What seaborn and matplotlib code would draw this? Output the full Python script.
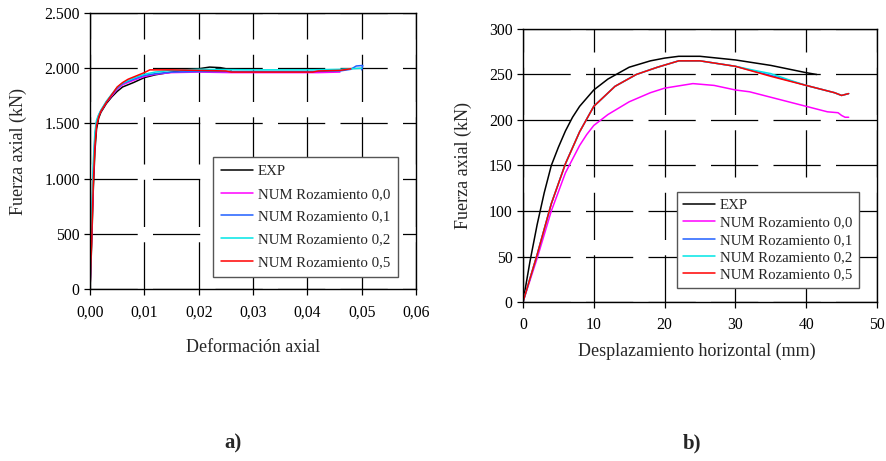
import matplotlib
matplotlib.use("Agg")
import matplotlib.pyplot as plt
import matplotlib.ticker as mticker
import seaborn as sns
import pandas as pd

# ---- data: a) axial strain vs axial force ----
labels = ["EXP", "NUM Rozamiento 0,0", "NUM Rozamiento 0,1",
          "NUM Rozamiento 0,2", "NUM Rozamiento 0,5"]
colors = ["black", "#ff00ff", "#1f5fff", "#00e5e5", "#ff0000"]

a_exp_x = [0, 0.0003, 0.0006, 0.0009, 0.0012, 0.0016, 0.002, 0.003, 0.004, 0.005,
           0.006, 0.008, 0.010, 0.012, 0.015, 0.018, 0.020, 0.022, 0.024, 0.026]
a_exp_y = [0, 400, 900, 1250, 1450, 1550, 1600, 1680, 1740, 1790,
           1830, 1870, 1915, 1940, 1965, 1985, 1995, 2010, 2005, 1985]

a_n00_x = [0, 0.0003, 0.0006, 0.0009, 0.0012, 0.0016, 0.002, 0.003, 0.004, 0.005,
           0.006, 0.008, 0.010, 0.012, 0.015, 0.020, 0.026, 0.035, 0.042, 0.046]
a_n00_y = [0, 500, 1000, 1350, 1500, 1570, 1610, 1690, 1750, 1810,
           1850, 1890, 1925, 1945, 1960, 1965, 1960, 1960, 1960, 1965]

a_n01_x = [0, 0.0003, 0.0006, 0.0009, 0.0012, 0.0016, 0.002, 0.003, 0.004, 0.005,
           0.006, 0.008, 0.010, 0.012, 0.015, 0.020, 0.030, 0.040, 0.046, 0.048,
           0.049, 0.0502, 0.050]
a_n01_y = [0, 550, 1050, 1380, 1510, 1575, 1615, 1695, 1760, 1820,
           1860, 1900, 1935, 1950, 1965, 1970, 1970, 1970, 1975, 1990,
           2020, 2025, 1985]

a_n02_x = [0, 0.0003, 0.0006, 0.0009, 0.0012, 0.0016, 0.002, 0.003, 0.004, 0.005,
           0.006, 0.008, 0.010, 0.012, 0.015, 0.020, 0.030, 0.040, 0.046, 0.050]
a_n02_y = [0, 650, 1150, 1420, 1530, 1580, 1620, 1700, 1765, 1825,
           1865, 1910, 1945, 1965, 1980, 1990, 1985, 1985, 1990, 2000]

a_n05_x = [0, 0.0003, 0.0006, 0.0009, 0.0012, 0.0016, 0.002, 0.003, 0.004, 0.005,
           0.006, 0.007, 0.008, 0.009, 0.010, 0.011, 0.015, 0.020, 0.025, 0.026,
           0.041, 0.042, 0.046, 0.048]
a_n05_y = [0, 450, 950, 1300, 1480, 1560, 1610, 1690, 1760, 1830,
           1870, 1900, 1920, 1940, 1960, 1985, 1985, 1980, 1975, 1965,
           1965, 1975, 1980, 1995]

# ---- data: b) horizontal displacement vs axial force ----
b_exp_x = [0, 1, 2, 3, 4, 5, 6, 7, 8, 10, 12, 15, 18, 20, 22, 25, 30, 35, 40, 41.5]
b_exp_y = [0, 45, 85, 120, 150, 170, 188, 203, 215, 233, 245, 258, 265, 268, 270, 270, 266, 260, 252, 250]

b_n00_x = [0, 2, 4, 6, 8, 9, 10, 12, 15, 18, 20, 24, 27, 30, 32, 35, 40, 43, 44.5, 45, 45.5, 46]
b_n00_y = [0, 48, 100, 142, 172, 184, 194, 206, 220, 230, 235, 240, 238, 233, 231, 225, 215, 209, 208, 205, 203, 203]

b_n01_x = [0, 2, 4, 6, 8, 10, 13, 16, 19, 22, 25, 30, 35, 40, 44, 45, 45.5, 46]
b_n01_y = [0, 52, 108, 152, 187, 215, 237, 250, 258, 265, 265, 259, 249, 238, 230, 227, 228, 229]

b_n02_x = [0, 2, 4, 6, 8, 10, 13, 16, 19, 22, 25, 30, 33, 35, 38, 40, 44, 45, 45.5, 46]
b_n02_y = [0, 52, 108, 152, 187, 215, 237, 250, 258, 265, 265, 259, 254, 251, 243, 238, 230, 227, 228, 229]

b_n05_x = [0, 2, 4, 6, 8, 10, 13, 16, 19, 22, 25, 30, 35, 40, 44, 45, 45.5, 46]
b_n05_y = [0, 52, 108, 152, 187, 215, 237, 250, 258, 265, 265, 259, 248, 238, 230, 227, 228, 229]


def long_df(series):
    frames = []
    for lab, xs, ys in series:
        frames.append(pd.DataFrame({"x": xs, "y": ys, "serie": lab}))
    return pd.concat(frames, ignore_index=True)


df_a = long_df(zip(labels, [a_exp_x, a_n00_x, a_n01_x, a_n02_x, a_n05_x],
                   [a_exp_y, a_n00_y, a_n01_y, a_n02_y, a_n05_y]))
df_b = long_df(zip(labels, [b_exp_x, b_n00_x, b_n01_x, b_n02_x, b_n05_x],
                   [b_exp_y, b_n00_y, b_n01_y, b_n02_y, b_n05_y]))

sns.set_theme(style="white")
plt.rcParams["font.family"] = ["Liberation Serif", "DejaVu Serif"]
plt.rcParams["lines.scale_dashes"] = False

fig = plt.figure(figsize=(8.87, 4.61), dpi=100)
ax_a = fig.add_axes([0.1015, 0.3731, 0.3675, 0.5987])
ax_b = fig.add_axes([0.5896, 0.3449, 0.3991, 0.5922])
palette = dict(zip(labels, colors))


def style_axes(ax):
    ax.grid(True, color="black", linewidth=0.9, linestyle=(0, (34, 11)))
    ax.set_axisbelow(True)
    for s in ax.spines.values():
        s.set_color("black")
        s.set_linewidth(1.0)
    ax.tick_params(axis="both", which="major", direction="out", length=4, width=0.9,
                   colors="black", labelsize=11.3, bottom=True, left=True)
    ax.tick_params(axis="x", pad=7)


# (anchor, labelspacing, borderpad) per panel
legend_opts = [(ax_a, df_a, (0.945, 0.0435), 0.62, 0.55),
               (ax_b, df_b, (0.949, 0.051), 0.26, 0.45)]
for ax, df, anchor, spacing, bpad in legend_opts:
    sns.lineplot(data=df, x="x", y="y", hue="serie", palette=palette, hue_order=labels,
                 estimator=None, sort=False, linewidth=1.1, ax=ax)
    style_axes(ax)
    leg = ax.legend(loc="lower right", bbox_to_anchor=anchor, borderaxespad=0,
                    fontsize=10.7, frameon=True, fancybox=False, framealpha=1,
                    edgecolor="#555555", handlelength=2.15, borderpad=bpad,
                    labelspacing=spacing, handletextpad=0.3)
    leg.get_frame().set_linewidth(1.0)

ax_a.set_xlim(0, 0.06)
ax_a.set_ylim(0, 2500)
ax_a.xaxis.set_major_locator(mticker.MultipleLocator(0.01))
ax_a.yaxis.set_major_locator(mticker.MultipleLocator(500))
ax_a.xaxis.set_major_formatter(mticker.FuncFormatter(lambda v, p: f"{v:.2f}".replace(".", ",")))
ax_a.yaxis.set_major_formatter(mticker.FuncFormatter(lambda v, p: f"{int(round(v)):,}".replace(",", ".")))
ax_a.set_xlabel("Deformación axial", fontsize=13)
ax_a.set_ylabel("Fuerza axial (kN)", fontsize=13)
ax_a.xaxis.set_label_coords(0.5, -0.181)
ax_a.yaxis.set_label_coords(-0.193, 0.5)

ax_b.set_xlim(0, 50)
ax_b.set_ylim(0, 300)
ax_b.xaxis.set_major_locator(mticker.MultipleLocator(10))
ax_b.yaxis.set_major_locator(mticker.MultipleLocator(50))
ax_b.set_xlabel("Desplazamiento horizontal (mm)", fontsize=13)
ax_b.set_ylabel("Fuerza axial (kN)", fontsize=13)
ax_b.xaxis.set_label_coords(0.49, -0.150)
ax_b.yaxis.set_label_coords(-0.144, 0.5)

fig.text(233 / 887, 1 - 443 / 461, "a)", fontsize=15, fontweight="bold", ha="center", va="center")
fig.text(692 / 887, 1 - 443 / 461, "b)", fontsize=15, fontweight="bold", ha="center", va="center")

fig.savefig("out.png", dpi=100, facecolor="white")
